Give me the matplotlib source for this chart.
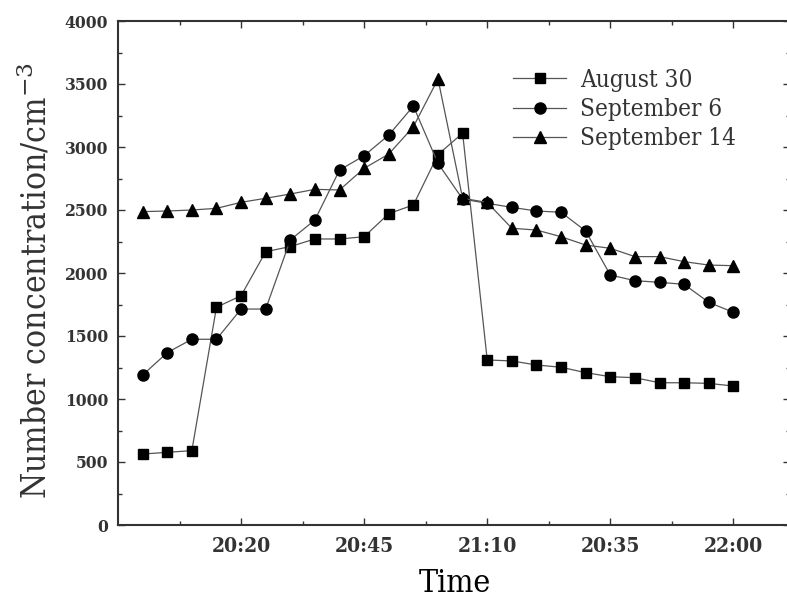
import matplotlib
matplotlib.use("Agg")
import matplotlib.pyplot as plt
from matplotlib.ticker import FixedLocator, MultipleLocator

idx = list(range(25))
aug30 = [563, 577, 590, 1728, 1820, 2169, 2210, 2270, 2270, 2288, 2471, 2540, 2940, 3110,
         1310, 1302, 1270, 1252, 1209, 1177, 1169, 1129, 1129, 1124, 1103]
sep6 = [1190, 1368, 1474, 1474, 1714, 1714, 2262, 2421, 2817, 2931, 3095, 3325, 2870, 2587,
        2553, 2521, 2492, 2482, 2333, 1984, 1939, 1926, 1910, 1767, 1688]
sep14 = [2487, 2492, 2500, 2513, 2561, 2593, 2627, 2664, 2659, 2831, 2944, 3161, 3540, 2593,
         2560, 2355, 2341, 2288, 2222, 2196, 2130, 2130, 2090, 2063, 2058]
series_labels = ["August 30", "September 6", "September 14"]
xtick_pos = [4, 9, 14, 19, 24]
xtick_labels = ["20:20", "20:45", "21:10", "20:35", "22:00"]
xminor_pos = [1.5, 6.5, 11.5, 16.5, 21.5]

FONT = "DejaVu Serif"
TXT = "#333333"
plt.rcParams["font.family"] = FONT
plt.rcParams["mathtext.fontset"] = "dejavuserif"

fig = plt.figure(figsize=(7.87, 5.97), dpi=100)
ax = fig.add_axes([118/787, 72/597, 672/787, 504/597])

lc = "#555555"
ax.plot(idx, aug30, color=lc, lw=0.9, marker="s", ms=7, mfc="black", mec="black", label=series_labels[0])
ax.plot(idx, sep6, color=lc, lw=0.9, marker="o", ms=8, mfc="black", mec="black", label=series_labels[1])
ax.plot(idx, sep14, color=lc, lw=0.9, marker="^", ms=8.5, mfc="black", mec="black", label=series_labels[2])

ax.set_xlim(-1, 26.3)
ax.set_ylim(0, 4000)
ax.xaxis.set_major_locator(FixedLocator(xtick_pos))
ax.set_xticklabels(xtick_labels)
ax.xaxis.set_minor_locator(FixedLocator(xminor_pos))
ax.yaxis.set_major_locator(MultipleLocator(500))
ax.yaxis.set_minor_locator(MultipleLocator(250))

for s in ax.spines.values():
    s.set_linewidth(1.5)
    s.set_color("#333333")
ax.spines["right"].set_color("#bbbbbb")
ax.spines["right"].set_linewidth(0.5)
ax.tick_params(which="both", direction="in", top=True, right=True, color="#333333", width=1.0)
ax.tick_params(which="major", length=5)
ax.tick_params(which="minor", length=3)
ax.tick_params(axis="x", which="major", labelsize=15, pad=8, labelcolor=TXT)
ax.tick_params(axis="y", which="major", labelsize=12.5, pad=7, labelcolor=TXT)
for lab in ax.get_xticklabels() + ax.get_yticklabels():
    lab.set_fontstretch("condensed")
    lab.set_fontweight("bold")

fig.text(455/787, 1 - 583/597, "Time", ha="center", va="center", fontsize=23, color="black",
         fontstretch="condensed")
fig.text(35/787, 1 - 281/597, "Number concentration/cm$^{-3}$", ha="center", va="center",
         rotation=90, fontsize=24, color=TXT, fontstretch="condensed")

leg = ax.legend(loc="upper left", bbox_to_anchor=((513-118)/672, (525-69)/504), frameon=False,
                fontsize=17.5, handlelength=2.2, handletextpad=0.55, labelspacing=0.25,
                borderaxespad=0, borderpad=0)
for t in leg.get_texts():
    t.set_color(TXT)
    t.set_fontstretch("condensed")

fig.savefig("out.png", dpi=100)
